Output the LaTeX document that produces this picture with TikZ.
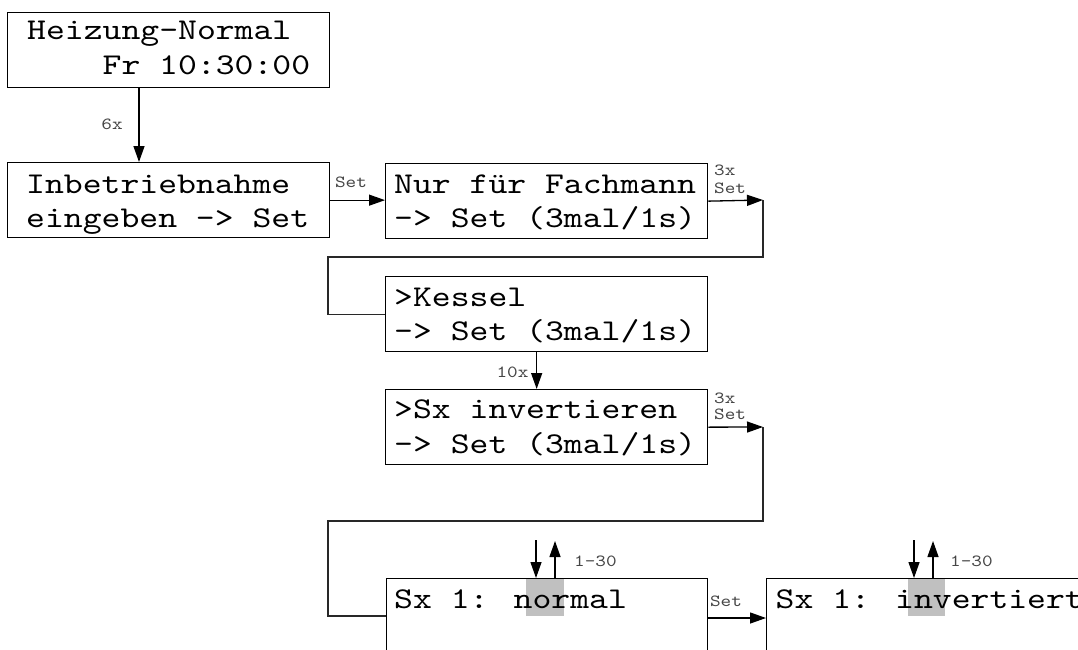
\documentclass[tikz,border=0pt]{standalone}
\usepackage{fontspec}
\newfontfamily\lcd{lmmono10-regular.otf}[FakeStretch=1.19]
\usetikzlibrary{arrows.meta}
\definecolor{hl}{RGB}{192,192,192}
\definecolor{lbl}{RGB}{70,70,70}
\definecolor{conn}{RGB}{40,40,40}
\tikzset{
  box/.style={draw=black, line width=1.3pt, rectangle, inner sep=0pt, anchor=north west},
  txt/.style={inner sep=0pt, anchor=base west, font=\lcd\fontsize{30.2}{35}\selectfont, text=black},
  lab/.style={inner sep=0pt, font=\lcd\fontsize{17}{19}\selectfont, text=lbl},
  arr/.style={draw=black, line width=1.3pt, -{Triangle[length=16pt,width=11pt]}},
  wire/.style={draw=conn, line width=1.3pt},
}
\begin{document}
\begin{tikzpicture}[x=1pt,y=-1pt]
\useasboundingbox (0,0) rectangle (1078,650);
\clip (0,0) rectangle (1078,650);
\fill[white] (0,0) rectangle (1078,650);

% highlights
\fill[hl] (526.1,579) rectangle (563.8,616);
\fill[hl] (907.6,579) rectangle (945.3,616);

% boxes
\node[box, minimum width=322pt, minimum height=75pt] (b1) at (7,12) {};
\node[box, minimum width=322pt, minimum height=75pt] (b2) at (7,162) {};
\node[box, minimum width=322pt, minimum height=75pt] (b3) at (385,163) {};
\node[box, minimum width=322pt, minimum height=75pt] (b4) at (385,276) {};
\node[box, minimum width=322pt, minimum height=75pt] (b5) at (385,389) {};
\node[box, minimum width=321pt, minimum height=120pt] (b6) at (386,578) {};
\node[box, minimum width=360pt, minimum height=120pt] (b7) at (766,578) {};

% texts
\node[txt] (t1a) at (27,40) {Heizung-Normal};
\node[txt] (t1b) at (27,75) {\ \ \ \ Fr 10:30:00};
\node[txt] (t2a) at (26,193) {Inbetriebnahme};
\node[txt] (t2b) at (26,227) {eingeben -> Set};
\node[txt] (t3a) at (394,193) {Nur für Fachmann};
\node[txt] (t3b) at (394,227) {-> Set (3mal/1s)};
\node[txt] (t4a) at (394,306) {>Kessel};
\node[txt] (t4b) at (394,340) {-> Set (3mal/1s)};
\node[txt] (t5a) at (394,418) {>Sx invertieren};
\node[txt] (t5b) at (394,453) {-> Set (3mal/1s)};
\node[txt] (t6) at (394,608) {Sx 1: normal};
\node[txt] (t7) at (775.5,608) {Sx 1: invertiert};

% connectors
\draw[arr] ([xshift=132pt]b1.south west) -- ([xshift=132pt]b2.north west);
\draw[arr] (b2.east) -- (b2.east -| b3.west);
\coordinate (c1) at (763,200);
\draw[arr] (b3.east) -- (c1);
\draw[wire] (c1) -- (763,257) -- (328,257) |- (b4.west);
\draw[arr] ([xshift=-10pt]b4.south) -- ([xshift=-10pt]b5.north);
\coordinate (c2) at (763,427);
\draw[arr] (b5.east) -- (c2);
\coordinate (c3) at (328,521);
\draw[wire] (c2) -- (c2 |- c3) -- (c3) |- ([yshift=-38pt]b6.north west);
\draw[arr] ([yshift=-40pt]b6.north east) -- ([yshift=-40pt]b7.north west);

% up/down arrows
\coordinate (d6) at (536,540);
\coordinate (u6) at (555,541);
\draw[arr] (d6) -- (d6 |- b6.north);
\draw[arr] (u6 |- b6.north) -- (u6);
\coordinate (d7) at (914,540);
\coordinate (u7) at (933,541);
\draw[arr] (d7) -- (d7 |- b7.north);
\draw[arr] (u7 |- b7.north) -- (u7);

% labels
\node[lab] (l1) at (112,124) {6x};
\node[lab] (l2) at (351,182) {Set};
\node[lab, anchor=west] (l3) at (714,170.5) {3x};
\node[lab, anchor=west] (l4) at (714,188) {Set};
\node[lab] (l5) at (512.5,372) {10x};
\node[lab, anchor=west] (l6) at (714,398) {3x};
\node[lab, anchor=west] (l7) at (714,414) {Set};
\node[lab] (l8) at (726,601) {Set};
\node[lab, anchor=west] (l9) at (574,561) {1-30};
\node[lab, anchor=west] (l10) at (950,561) {1-30};
\end{tikzpicture}
\end{document}
